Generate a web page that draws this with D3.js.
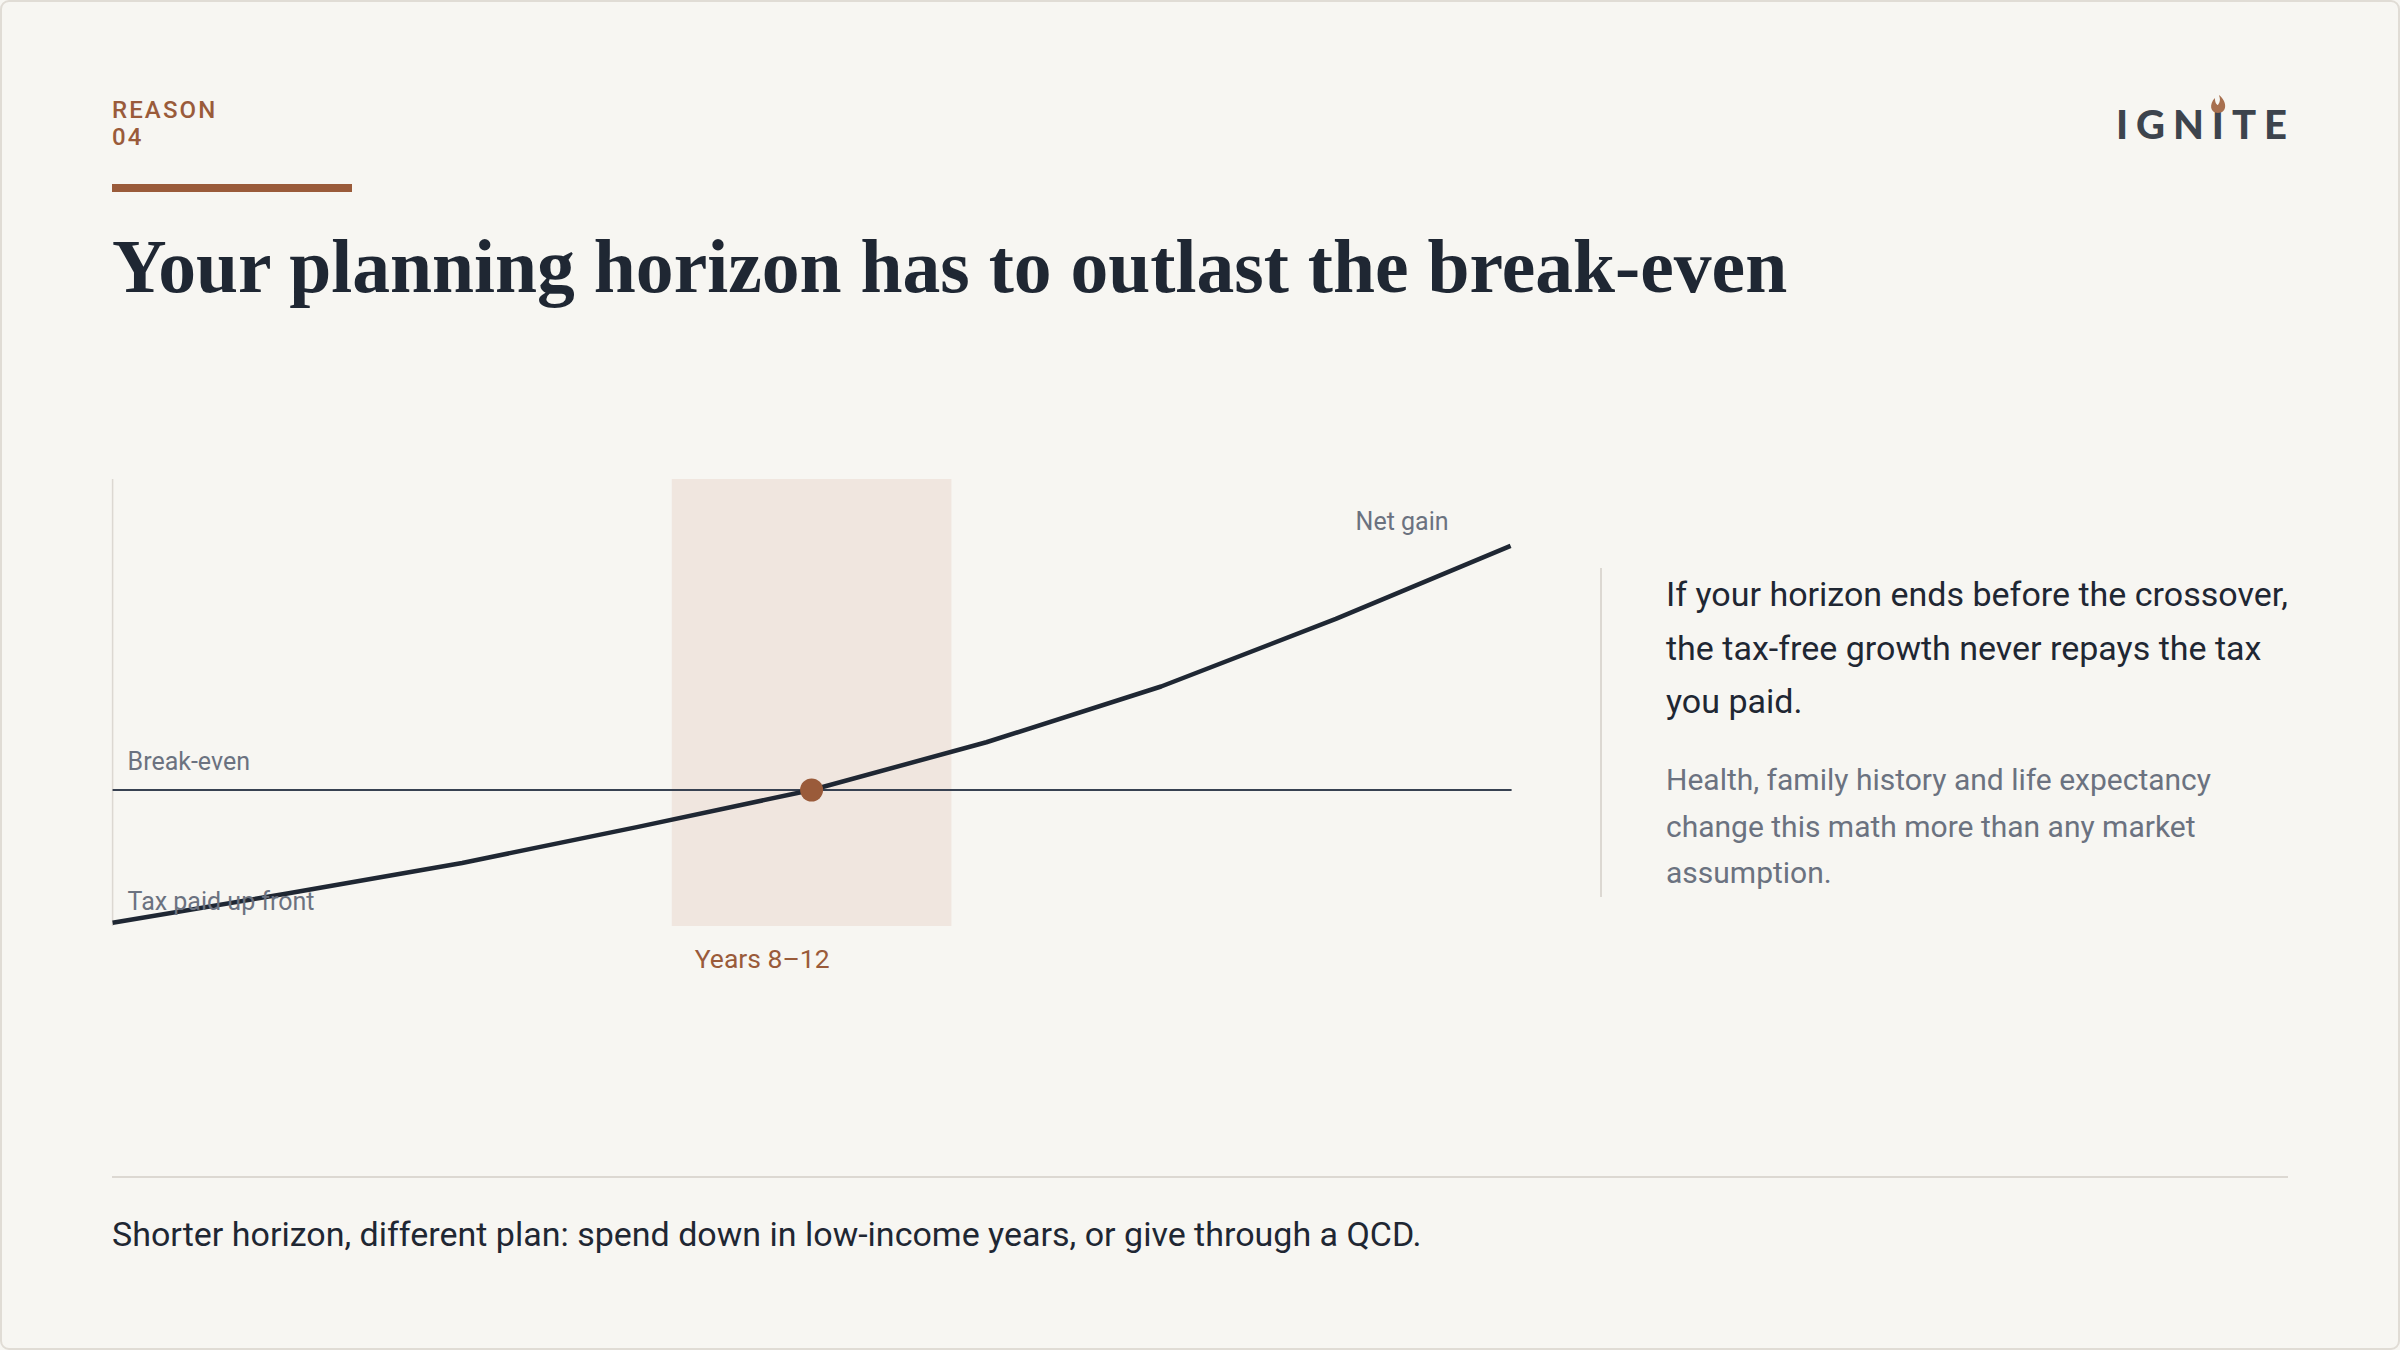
<!DOCTYPE html>
<html>
<head>
<meta charset="utf-8">
<script src="https://cdn.jsdelivr.net/npm/d3@7"></script>
<style>
  html, body { margin: 0; padding: 0; background: #f7f6f2; }
  svg { display: block; }
</style>
</head>
<body>
<div id="chart"></div>
<script>
// Net position of the conversion over the horizon (break-even = 0)
const years = [0, 2.5, 5, 7.5, 10, 12.5, 15, 17.5, 20];
const netValues = [-100, -78, -55, -28, 0, 36, 78, 129, 184];
const bandYears = [8, 12];
const crossoverYear = 10;

const titleText = "Your planning horizon has to outlast the break-even";
const calloutLines = [
    "If your horizon ends before the crossover,",
    "the tax-free growth never repays the tax",
    "you paid."
];
const noteLines = [
    "Health, family history and life expectancy",
    "change this math more than any market",
    "assumption."
];
const footerText = "Shorter horizon, different plan: spend down in low-income years, or give through a QCD.";

const W = 2400, H = 1350;
const ink = "#1f2733", grey = "#6b7280", rust = "#9a5b3a";
const sans = "Roboto, 'Noto Sans', sans-serif";

const svg = d3.select("#chart").append("svg")
    .attr("width", W)
    .attr("height", H);

// card background + border
svg.append("rect")
    .attr("x", 1).attr("y", 1)
    .attr("width", W - 2).attr("height", H - 2)
    .attr("rx", 8)
    .attr("fill", "#f7f6f2")
    .attr("stroke", "#e0dcd5")
    .attr("stroke-width", 2);

// eyebrow
const eyebrow = svg.append("text")
    .attr("x", 112)
    .attr("fill", rust)
    .style("font-family", sans)
    .style("font-weight", 500)
    .style("font-size", "24px")
    .style("letter-spacing", "2.1px");
eyebrow.append("tspan").attr("x", 112).attr("y", 118).text("REASON");
eyebrow.append("tspan").attr("x", 112).attr("y", 145).text("04");

svg.append("rect")
    .attr("x", 112).attr("y", 184)
    .attr("width", 240).attr("height", 8)
    .attr("fill", rust);

// title, fitted to the reference width
const title = svg.append("text")
    .attr("x", 112).attr("y", 292)
    .attr("fill", ink)
    .style("font-family", "'Liberation Serif', 'DejaVu Serif', serif")
    .style("font-weight", 700)
    .style("font-size", "72px")
    .text(titleText);
const titleW = title.node().getComputedTextLength();
title.style("font-size", (72 * 1676 / titleW).toFixed(1) + "px");

// logo
const logo = svg.append("text")
    .attr("x", 2116).attr("y", 139)
    .attr("fill", "#3d444d")
    .attr("textLength", 171)
    .attr("lengthAdjust", "spacing")
    .style("font-family", "Lato, 'Open Sans', sans-serif")
    .style("font-weight", 900)
    .style("font-size", "40px")
    .text("IGNITE");
const iBox = logo.node().getExtentOfChar(3);
const fx = iBox.x + iBox.width / 2;
svg.append("path")
    .attr("d", `M${fx + 1},95 C${fx + 10},102 ${fx + 9},113 ${fx},113 C${fx - 8},113 ${fx - 9},104 ${fx - 3},98 C${fx - 3},103 ${fx - 1},105 ${fx},105 C${fx + 3},101 ${fx + 2},98 ${fx + 1},95 Z`)
    .attr("fill", "#a8704f");

// chart
const x = d3.scaleLinear().domain([0, 20]).range([112.6, 1510.6]);
const y = d3.scaleLinear().domain([-102.5, 234.4]).range([926, 479]);

const g = svg.append("g");

g.append("rect")
    .attr("x", x(bandYears[0]))
    .attr("y", y(234.4))
    .attr("width", x(bandYears[1]) - x(bandYears[0]))
    .attr("height", y(-102.5) - y(234.4))
    .attr("fill", "#f0e6df");

g.append("line")
    .attr("x1", x(0)).attr("x2", x(0))
    .attr("y1", y(234.4)).attr("y2", y(-102.5))
    .attr("stroke", "#dcd8d2")
    .attr("stroke-width", 1.5);

g.append("line")
    .attr("x1", x(0)).attr("x2", x(20) + 1)
    .attr("y1", y(0)).attr("y2", y(0))
    .attr("stroke", "#374151")
    .attr("stroke-width", 2);

g.append("path")
    .datum(years.map((yr, i) => [yr, netValues[i]]))
    .attr("fill", "none")
    .attr("stroke", ink)
    .attr("stroke-width", 4.5)
    .attr("stroke-linejoin", "round")
    .attr("d", d3.line().x(d => x(d[0])).y(d => y(d[1])));

g.append("circle")
    .attr("cx", x(crossoverYear))
    .attr("cy", y(0))
    .attr("r", 11.5)
    .attr("fill", rust);

const label = (tx, ty, txt, anchor, color, size) => g.append("text")
    .attr("x", tx).attr("y", ty)
    .attr("text-anchor", anchor)
    .attr("fill", color)
    .style("font-family", sans)
    .style("font-size", size + "px")
    .text(txt);

label(x(0) + 15, y(0) - 20, "Break-even", "start", grey, 25);
label(x(0) + 15, 910, "Tax paid up front", "start", grey, 25);
label(x(20) - 62, 530, "Net gain", "end", grey, 25);
label(x(bandYears[0]) + 23, 968, "Years 8\u201312", "start", rust, 26.5);

// callout on the right
svg.append("line")
    .attr("x1", 1601).attr("x2", 1601)
    .attr("y1", 568).attr("y2", 897)
    .attr("stroke", "#dcd8d2")
    .attr("stroke-width", 2);

calloutLines.forEach((t, i) => {
    svg.append("text")
        .attr("x", 1666).attr("y", 606 + i * 53.5)
        .attr("fill", ink)
        .style("font-family", sans)
        .style("font-size", "34px")
        .text(t);
});
noteLines.forEach((t, i) => {
    svg.append("text")
        .attr("x", 1666).attr("y", 790 + i * 46.5)
        .attr("fill", grey)
        .style("font-family", sans)
        .style("font-size", "30px")
        .text(t);
});

// footer
svg.append("line")
    .attr("x1", 112).attr("x2", 2288)
    .attr("y1", 1177).attr("y2", 1177)
    .attr("stroke", "#dcd8d2")
    .attr("stroke-width", 2);

svg.append("text")
    .attr("x", 112).attr("y", 1246)
    .attr("fill", ink)
    .style("font-family", sans)
    .style("font-size", "34px")
    .text(footerText);
</script>
</body>
</html>
